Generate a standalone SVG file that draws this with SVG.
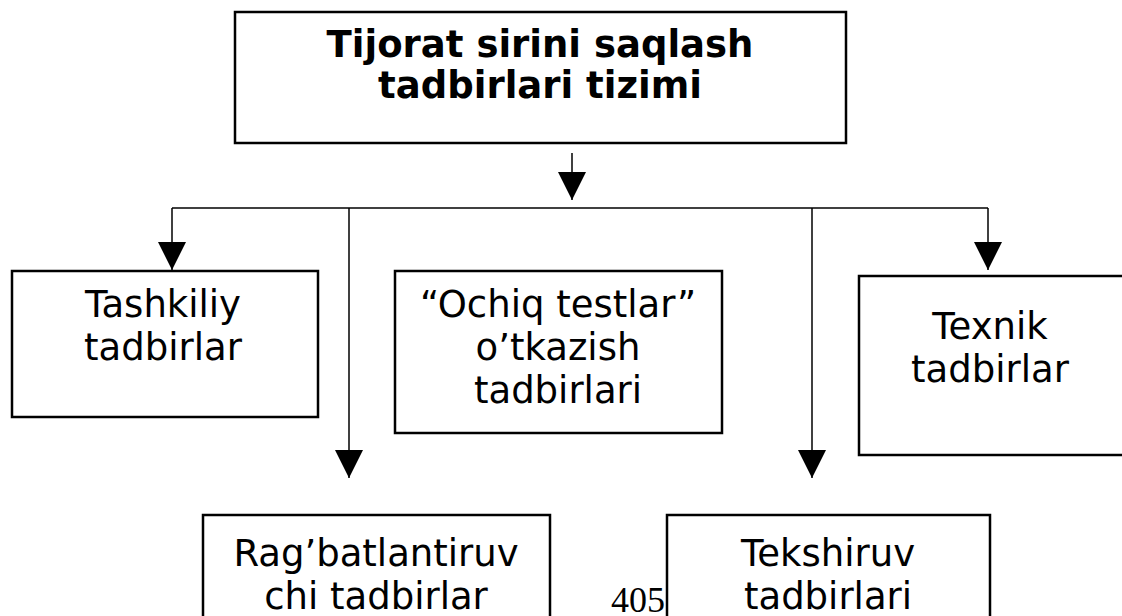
<svg xmlns="http://www.w3.org/2000/svg" width="1122" height="616" viewBox="0 0 1122 616">
<style>
.box{fill:#fff;stroke:#000;stroke-width:2.5}
.c{fill:none;stroke:#000;stroke-width:1.5}
.t{font-family:"DejaVu Sans",Verdana,sans-serif;font-size:37px;fill:#000;text-anchor:middle}
.b{font-family:"DejaVu Sans",Verdana,sans-serif;font-size:37px;font-weight:bold;fill:#000;text-anchor:middle}
.n{font-family:"Liberation Serif","Times New Roman",serif;font-size:36px;fill:#000}
</style>
<defs>
<marker id="ah" markerUnits="userSpaceOnUse" markerWidth="28" markerHeight="28" viewBox="0 0 28 28" refX="28" refY="14" orient="auto">
<path d="M0,0 L28,14 L0,28 Z" fill="#000"/>
</marker>
</defs>
<g id="connectors">
<line class="c" x1="572" y1="153" x2="572" y2="200" marker-end="url(#ah)"/>
<line class="c" x1="172" y1="208" x2="988" y2="208"/>
<line class="c" x1="172" y1="208" x2="172" y2="270" marker-end="url(#ah)"/>
<line class="c" x1="349" y1="208" x2="349" y2="478" marker-end="url(#ah)"/>
<line class="c" x1="812" y1="208" x2="812" y2="478" marker-end="url(#ah)"/>
<line class="c" x1="988" y1="208" x2="988" y2="270" marker-end="url(#ah)"/>
</g>
<g id="top">
<rect class="box" x="235" y="12" width="611" height="131"/>
<text class="b" x="540" y="57">Tijorat sirini saqlash</text>
<text class="b" x="540" y="98">tadbirlari tizimi</text>
</g>
<g id="tashkiliy">
<rect class="box" x="12" y="271" width="306" height="146"/>
<text class="t" x="163" y="317">Tashkiliy</text>
<text class="t" x="163" y="360">tadbirlar</text>
</g>
<g id="ochiq">
<rect class="box" x="395" y="271" width="327" height="162"/>
<text class="t" x="558" y="317">“Ochiq testlar”</text>
<text class="t" x="558" y="360">o’tkazish</text>
<text class="t" x="558" y="403">tadbirlari</text>
</g>
<g id="texnik">
<rect class="box" x="859" y="276" width="270" height="179"/>
<text class="t" x="990" y="339">Texnik</text>
<text class="t" x="990" y="382">tadbirlar</text>
</g>
<g id="ragbat">
<rect class="box" x="203" y="515" width="347" height="110"/>
<text class="t" x="376" y="566">Rag’batlantiruv</text>
<text class="t" x="376" y="609">chi tadbirlar</text>
</g>
<g id="tekshiruv">
<rect class="box" x="667" y="515" width="323" height="110"/>
<text class="t" x="828" y="566">Tekshiruv</text>
<text class="t" x="828" y="609">tadbirlari</text>
</g>
<text class="n" x="611" y="612">405</text>
</svg>
